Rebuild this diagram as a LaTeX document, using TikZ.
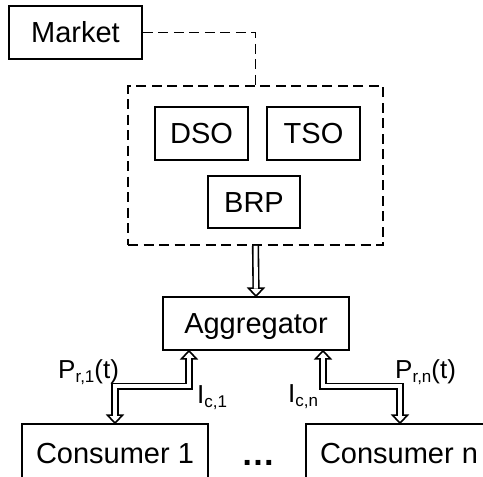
\documentclass[tikz,border=0pt]{standalone}
\usepackage{fontspec}
\setmainfont{Liberation Sans}
\usetikzlibrary{calc}
\newcommand{\lsub}[1]{\raisebox{-4.5pt}{\fontsize{17}{18}\selectfont #1}}
\newcommand{\headup}[1]{\draw[headst] (#1) -- ++(-7.5,8) -- ++(15,0) -- cycle;}
\newcommand{\headdown}[1]{\draw[headst] (#1) -- ++(-7.5,-8) -- ++(15,0) -- cycle;}
\begin{document}
\begin{tikzpicture}[x=1pt,y=-1pt,
  font=\fontsize{29}{32}\selectfont,
  box/.style={draw, line width=1.7pt, inner sep=0pt, text height=20.8pt, text depth=0pt},
  grpbox/.style={draw, line width=1.7pt, dash pattern=on 10pt off 5.5pt, inner sep=0pt},
  dashline/.style={line width=1.7pt, dash pattern=on 10pt off 5.5pt},
  dbl/.style={line width=1.6pt, double=white, double distance=4pt},
  headst/.style={line width=1.6pt, fill=white, line join=miter},
  lbl/.style={inner sep=0pt, anchor=base west, font=\fontsize{26}{28}\selectfont}]
\useasboundingbox (0,0) rectangle (483,477);
\clip (0,0) rectangle (483,477);
\node[box, minimum width=133pt, minimum height=53pt] (market) at (75.5,32.5) {Market};
\node[grpbox, minimum width=255pt, minimum height=159pt] (grp) at (255.5,165.5) {};
\node[box, minimum width=93pt, minimum height=53pt] (dso) at (201.5,133.5) {DSO};
\node[box, minimum width=93pt, minimum height=53pt] (tso) at (313.5,133.5) {TSO};
\node[box, minimum width=92pt, minimum height=52pt] (brp) at (254,202) {BRP};
\node[box, minimum width=186pt, minimum height=53pt] (agg) at (256,323.5) {Aggregator};
\node[box, minimum width=186pt, minimum height=58pt] (c1) at (115,453) {Consumer 1};
\node[box, minimum width=186pt, minimum height=58pt] (cn) at (399,453) {Consumer n};
\node[inner sep=0pt, anchor=base, font=\fontsize{34}{36}\selectfont\bfseries] (dots) at (258,465) {…};
% market to group
\draw[dashline] (market.east) -| (grp.north);
% group to aggregator
\headdown{agg.north}
\draw[dbl] (grp.south) -- ($(agg.north)+(0,-7.5)$);
% bidirectional arrows
\coordinate (a1) at ($(agg.south)+(-67,0)$);
\coordinate (an) at ($(agg.south)+(67,0)$);
\coordinate (b1) at ($(c1.north)$);
\coordinate (bn) at ($(cn.north)+(1,0)$);
\headup{a1}
\headdown{b1}
\draw[dbl] ($(a1)+(0,7.5)$) |- ($(b1)+(0,-37)$) -- ($(b1)+(0,-7.5)$);
\headup{an}
\headdown{bn}
\draw[dbl] ($(an)+(0,7.5)$) |- ($(bn)+(0,-37)$) -- ($(bn)+(0,-7.5)$);
% labels
\node[lbl] (lp1) at (58,378) {P\lsub{r,1}(t)};
\node[lbl] (li1) at (197,403) {I\lsub{c,1}};
\node[lbl] (lin) at (288,402) {I\lsub{c,n}};
\node[lbl] (lpn) at (395,378) {P\lsub{r,n}(t)};
\end{tikzpicture}
\end{document}
